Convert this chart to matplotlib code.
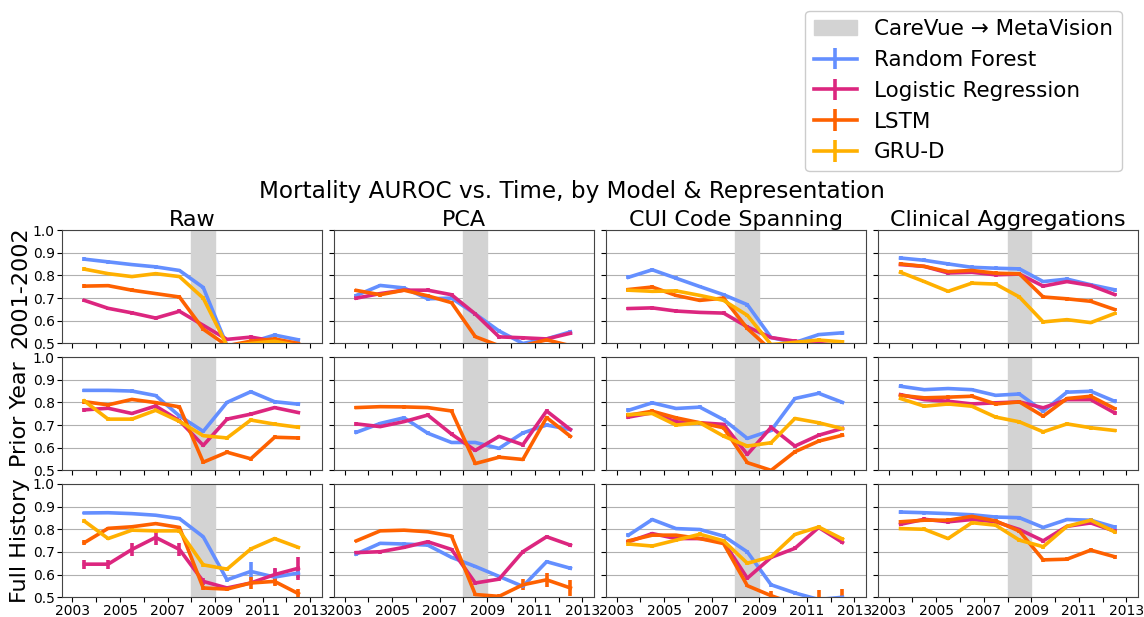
import matplotlib
matplotlib.use('Agg')
import matplotlib.pyplot as plt
from matplotlib.patches import Patch
import numpy as np

years = [2003.5, 2004.5, 2005.5, 2006.5, 2007.5, 2008.5, 2009.5, 2010.5, 2011.5, 2012.5]
models = ['Random Forest', 'Logistic Regression', 'LSTM', 'GRU-D']
colors = ['#648FFF', '#DC267F', '#FE6100', '#FFB000']
reps = ['Raw', 'PCA', 'CUI Code Spanning', 'Clinical Aggregations']
periods = ['2001-2002', 'Prior Year', 'Full History']

# AUROC per (period, representation): RF, LR, LSTM, GRU-D  (None = not run)
# --- 2001-2002 ---
raw_0102 = [[0.872, 0.860, 0.848, 0.838, 0.822, 0.747, 0.490, 0.505, 0.537, 0.516],
            [0.690, 0.655, 0.635, 0.612, 0.642, 0.580, 0.518, 0.528, 0.510, 0.490],
            [0.753, 0.755, 0.735, 0.720, 0.705, 0.563, 0.490, 0.510, 0.520, 0.500],
            [0.828, 0.808, 0.795, 0.808, 0.795, 0.700, 0.490, 0.500, 0.510, 0.490]]
pca_0102 = [[0.712, 0.756, 0.745, 0.697, 0.700, 0.630, 0.555, 0.500, 0.520, 0.551],
            [0.700, 0.720, 0.735, 0.735, 0.715, 0.630, 0.529, 0.525, 0.520, 0.545],
            [0.734, 0.715, 0.735, 0.710, 0.680, 0.530, 0.490, 0.490, 0.516, 0.490],
            None]
cui_0102 = [[0.792, 0.825, 0.788, 0.751, 0.715, 0.671, 0.526, 0.504, 0.539, 0.547],
            [0.654, 0.657, 0.643, 0.637, 0.634, 0.573, 0.526, 0.510, 0.500, 0.490],
            [0.738, 0.749, 0.712, 0.690, 0.700, 0.566, 0.470, 0.470, 0.470, 0.470],
            [0.735, 0.730, 0.732, 0.712, 0.690, 0.624, 0.495, 0.505, 0.515, 0.507]]
clin_0102 = [[0.877, 0.867, 0.851, 0.836, 0.832, 0.829, 0.773, 0.784, 0.759, 0.737],
             [0.848, 0.840, 0.811, 0.814, 0.803, 0.806, 0.753, 0.773, 0.756, 0.716],
             [0.851, 0.840, 0.817, 0.822, 0.810, 0.807, 0.705, 0.697, 0.686, 0.650],
             [0.814, 0.773, 0.730, 0.766, 0.762, 0.705, 0.595, 0.605, 0.592, 0.632]]
# --- Prior Year ---
raw_prior = [[0.853, 0.853, 0.850, 0.830, 0.740, 0.672, 0.800, 0.847, 0.803, 0.792],
             [0.767, 0.774, 0.751, 0.784, 0.719, 0.610, 0.726, 0.748, 0.777, 0.755],
             [0.803, 0.789, 0.813, 0.799, 0.780, 0.536, 0.580, 0.551, 0.646, 0.643],
             [0.806, 0.726, 0.726, 0.765, 0.716, 0.653, 0.643, 0.722, 0.704, 0.690]]
pca_prior = [[0.668, 0.707, 0.732, 0.664, 0.623, 0.623, 0.597, 0.665, 0.700, 0.680],
             [0.705, 0.693, 0.715, 0.744, 0.660, 0.588, 0.650, 0.613, 0.762, 0.680],
             [0.777, 0.781, 0.780, 0.777, 0.762, 0.530, 0.558, 0.548, 0.733, 0.650],
             None]
cui_prior = [[0.765, 0.798, 0.773, 0.779, 0.724, 0.641, 0.676, 0.817, 0.840, 0.800],
             [0.735, 0.754, 0.714, 0.710, 0.703, 0.570, 0.690, 0.607, 0.655, 0.685],
             [0.743, 0.761, 0.732, 0.710, 0.688, 0.534, 0.500, 0.582, 0.629, 0.655],
             [0.746, 0.751, 0.700, 0.710, 0.651, 0.607, 0.622, 0.729, 0.710, 0.684]]
clin_prior = [[0.871, 0.856, 0.861, 0.856, 0.831, 0.837, 0.761, 0.845, 0.849, 0.805],
              [0.834, 0.812, 0.805, 0.793, 0.798, 0.802, 0.776, 0.812, 0.812, 0.754],
              [0.831, 0.820, 0.823, 0.827, 0.793, 0.802, 0.739, 0.817, 0.827, 0.773],
              [0.817, 0.783, 0.793, 0.783, 0.735, 0.714, 0.670, 0.705, 0.688, 0.676]]
# --- Full History ---
raw_full = [[0.872, 0.873, 0.869, 0.862, 0.847, 0.767, 0.577, 0.614, 0.589, 0.607],
            [0.646, 0.646, 0.711, 0.764, 0.711, 0.570, 0.541, 0.563, 0.600, 0.628],
            [0.741, 0.804, 0.811, 0.825, 0.808, 0.541, 0.536, 0.563, 0.570, 0.516],
            [0.836, 0.759, 0.796, 0.793, 0.793, 0.643, 0.624, 0.713, 0.759, 0.720]]
pca_full = [[0.691, 0.738, 0.735, 0.730, 0.676, 0.636, 0.592, 0.548, 0.657, 0.628],
            [0.697, 0.701, 0.720, 0.745, 0.711, 0.563, 0.580, 0.701, 0.767, 0.730],
            [0.749, 0.793, 0.796, 0.789, 0.770, 0.512, 0.504, 0.555, 0.577, 0.541],
            None]
cui_full = [[0.774, 0.843, 0.803, 0.799, 0.770, 0.700, 0.555, 0.519, 0.490, 0.500],
            [0.745, 0.781, 0.759, 0.759, 0.745, 0.584, 0.676, 0.716, 0.808, 0.742],
            [0.749, 0.774, 0.774, 0.759, 0.737, 0.551, 0.507, 0.470, 0.470, 0.470],
            [0.735, 0.726, 0.752, 0.778, 0.749, 0.650, 0.679, 0.777, 0.810, 0.757]]
clin_full = [[0.876, 0.873, 0.869, 0.864, 0.854, 0.851, 0.808, 0.843, 0.840, 0.810],
             [0.822, 0.844, 0.833, 0.843, 0.833, 0.799, 0.749, 0.813, 0.828, 0.792],
             [0.833, 0.840, 0.840, 0.857, 0.837, 0.792, 0.665, 0.668, 0.708, 0.679],
             [0.803, 0.800, 0.759, 0.829, 0.818, 0.752, 0.723, 0.813, 0.840, 0.789]]

# error half-widths (small everywhere except where clearly visible)
err_small = [0.008] * 10
err_raw_full_lr = [0.02, 0.02, 0.03, 0.035, 0.03, 0.015, 0.01, 0.01, 0.03, 0.05]
err_raw_full_rf = [0.005, 0.005, 0.005, 0.005, 0.005, 0.005, 0.01, 0.04, 0.035, 0.02]
err_raw_full_lstm = [0.01, 0.008, 0.005, 0.005, 0.005, 0.01, 0.01, 0.025, 0.02, 0.02]
err_cui_full_lstm = [0.005, 0.005, 0.005, 0.005, 0.005, 0.005, 0.02, 0.02, 0.06, 0.065]
err_pca_full_lstm = [0.005, 0.005, 0.005, 0.005, 0.005, 0.005, 0.01, 0.025, 0.03, 0.035]

data = [[raw_0102, pca_0102, cui_0102, clin_0102],
        [raw_prior, pca_prior, cui_prior, clin_prior],
        [raw_full, pca_full, cui_full, clin_full]]
errs = {(2, 0, 1): err_raw_full_lr, (2, 0, 0): err_raw_full_rf, (2, 0, 2): err_raw_full_lstm,
        (2, 2, 2): err_cui_full_lstm, (2, 1, 2): err_pca_full_lstm}

fig, axes = plt.subplots(3, 4, figsize=(11.44, 6.17), dpi=100, sharex=True, sharey=True)
fig.subplots_adjust(left=0.054, right=0.995, top=0.627, bottom=0.032, wspace=0.045, hspace=0.12)

for r in range(3):
    for c in range(4):
        ax = axes[r, c]
        ax.axvspan(2008, 2009, color='#d3d3d3', zorder=1)
        for m in range(4):
            vals = data[r][c][m]
            if vals is None:
                continue
            ax.errorbar(years, vals, yerr=errs.get((r, c, m), err_small), color=colors[m],
                        lw=2.6, elinewidth=2.6, capsize=0, zorder=3)
        ax.set_ylim(0.5, 1.0)
        ax.set_xlim(2002.55, 2013.5)
        ax.set_yticks([0.5, 0.6, 0.7, 0.8, 0.9, 1.0])
        ax.yaxis.grid(True, color='#b0b0b0', lw=0.8)
        ax.set_axisbelow(True)
        for s in ax.spines.values():
            s.set_color('#444444')
        ax.tick_params(labelsize=10, pad=1.5)
        if r == 0:
            ax.set_title(reps[c], fontsize=16, pad=3)
    axes[r, 0].set_ylabel(periods[r], fontsize=16, labelpad=2)

axes[0, 0].set_xticks(range(2003, 2014))
axes[0, 0].set_xticklabels([str(y) if y % 2 == 1 else '' for y in range(2003, 2014)])

fig.suptitle('Mortality AUROC vs. Time, by Model & Representation', fontsize=16.7, y=0.708)

handles = [Patch(color='#d3d3d3', label='CareVue → MetaVision')]
for m in range(4):
    h = axes[0, 0].errorbar([], [], yerr=[], color=colors[m], lw=2.6, elinewidth=2.6, label=models[m])
    handles.append(h)
fig.legend(handles=handles, loc='upper right', bbox_to_anchor=(0.99, 1.0), fontsize=15.5,
           framealpha=1, edgecolor='#cccccc')

plt.savefig('out.png', dpi=100)
